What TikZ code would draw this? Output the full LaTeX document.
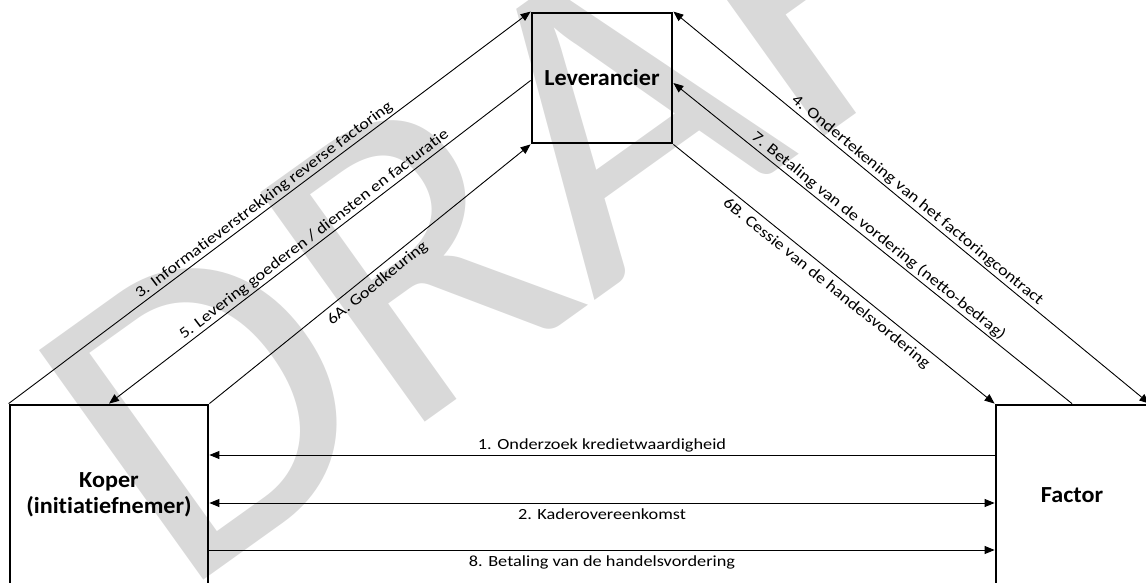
\documentclass[tikz,border=0pt]{standalone}
\usepackage{fontspec}
\setmainfont{Carlito}[Ligatures=NoCommon]
\newfontfamily\lblfont{Carlito}[FakeStretch=1.18, Ligatures=NoCommon]
\newfontfamily\boxfont{Carlito}[FakeStretch=1.05, Ligatures=NoCommon]
\usetikzlibrary{arrows.meta}
\definecolor{wmgray}{HTML}{D9D9D9}

\begin{document}
\begin{tikzpicture}[x=1pt,y=1pt,
  party/.style={draw, line width=2.8pt, inner sep=0pt, align=center,
    font=\boxfont\fontsize{23}{26}\selectfont\bfseries},
  fwd/.style={line width=0.9pt, -{Triangle[length=10pt,width=8pt]}},
  bwd/.style={line width=0.9pt, {Triangle[length=10pt,width=8pt]}-},
  both/.style={line width=0.9pt, {Triangle[length=10pt,width=8pt]}-{Triangle[length=10pt,width=8pt]}},
  lblup/.style={font=\lblfont\fontsize{15.5}{18}\selectfont, inner sep=2pt, above},
  lbldown/.style={font=\lblfont\fontsize{15.5}{18}\selectfont, inner sep=5pt, below}]
\useasboundingbox (0,0) rectangle (1146,-583);
% watermark
\node (wm) [anchor=base west, rotate=35.6, text=wmgray, inner sep=0pt, font=\fontsize{440}{480}\selectfont] at (179,-598) {DRAFT};
% the three parties
\node (lev) [party, minimum width=140, minimum height=130] at (602,-78) {Leverancier};
\node (kop) [party, minimum width=198, minimum height=180] at (109,-495) {Koper\\(initiatiefnemer)};
\node (fac) [party, minimum width=152, minimum height=180] at (1072,-495) {Factor};
\coordinate (y1) at (0,-455);
\coordinate (y2) at (0,-503);
\coordinate (y8) at (0,-550);
% koper - leverancier
\draw [fwd] (kop.north west) -- (lev.north west) node [lblup, midway, sloped] {3. Informatieverstrekking reverse factoring};
\draw [bwd] (kop.north) -- (lev.182) node [lblup, midway, sloped] {5. Levering goederen / diensten en facturatie};
\draw [fwd] (kop.north east) -- (lev.south west) node [lbldown, midway, sloped] {6A. Goedkeuring};
% leverancier - factor
\draw [both] (lev.north east) -- (fac.north east) node [lblup, midway, sloped] {4. Ondertekening van het factoringcontract};
\draw [bwd] (lev.-4) -- (fac.north) node [lblup, midway, sloped] {7. Betaling van de vordering (netto-bedrag)};
\draw [fwd] (lev.south east) -- (fac.north west) node [lbldown, midway, sloped] {6B. Cessie van de handelsvordering};
% koper - factor
\draw [bwd] (kop.east |- y1) -- (fac.west |- y1) node [lblup, midway] {1. Onderzoek kredietwaardigheid};
\draw [both] (kop.east |- y2) -- (fac.west |- y2) node [lbldown, midway] {2. Kaderovereenkomst};
\draw [fwd] (kop.east |- y8) -- (fac.west |- y8) node [lbldown, midway] {8. Betaling van de handelsvordering};
\end{tikzpicture}
\end{document}
